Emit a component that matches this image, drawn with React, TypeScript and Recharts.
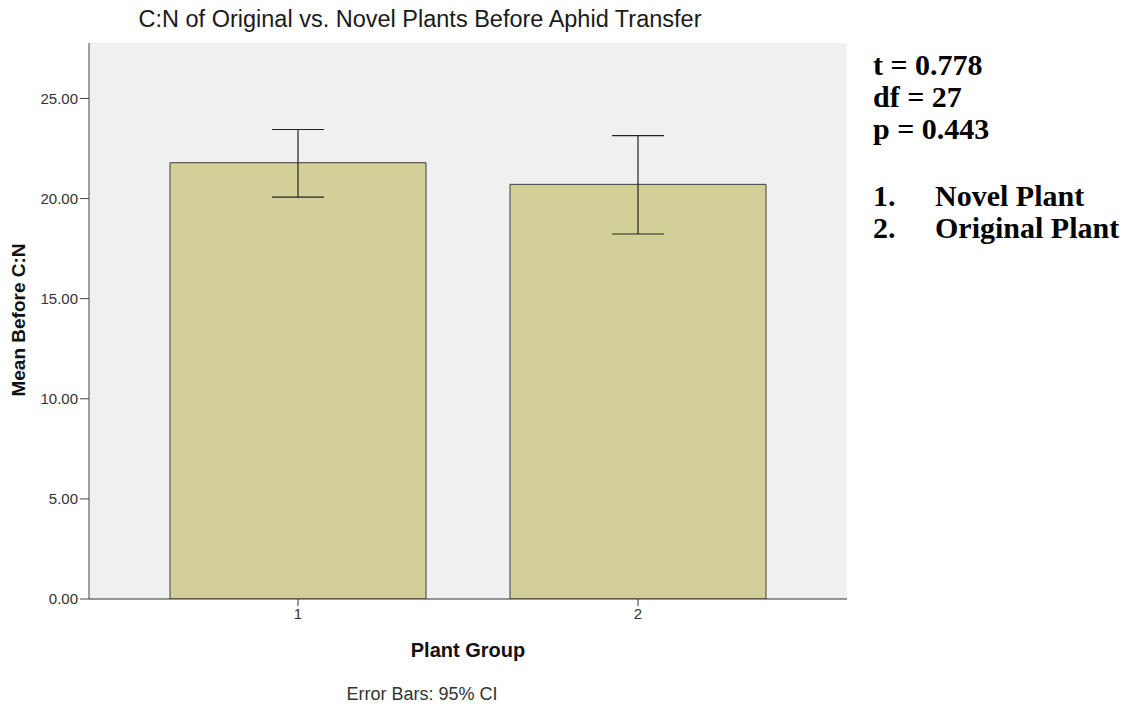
import { Bar, BarChart, CartesianGrid, ErrorBar, XAxis, YAxis } from 'recharts'

const groups = ['1', '2']
const means = [21.79, 20.71]
const ciLow = [20.07, 18.23]
const ciHigh = [23.45, 23.14]
const yTicks = [0, 5, 10, 15, 20, 25]
const stats = ['t = 0.778', 'df = 27', 'p = 0.443']
const legend = ['Novel Plant', 'Original Plant']

const data = groups.map((g, i) => ({
  group: g,
  mean: means[i],
  ci: [means[i] - ciLow[i], ciHigh[i] - means[i]],
}))

const sans = '"Liberation Sans", Arial, sans-serif'
const serif = '"Liberation Serif", "Times New Roman", serif'

export default function App() {
  return (
    <div style={{ position: 'absolute', left: 0, top: 0, width: 1131, height: 708, background: '#fff' }}>
      <BarChart
        width={1131}
        height={708}
        data={data}
        margin={{ top: 43, right: 284, bottom: 69, left: 0 }}
      >
        <CartesianGrid fill="#F0F0F0" horizontal={false} vertical={false} />
        <XAxis
          dataKey="group"
          padding={{ left: 39, right: 39 }}
          height={40}
          tickSize={7}
          tickMargin={2}
          axisLine={{ stroke: '#333' }}
          tickLine={{ stroke: '#333' }}
          tick={{ fill: '#333', fontSize: 15, fontFamily: sans }}
        />
        <XAxis
          xAxisId="top"
          dataKey="group"
          orientation="top"
          height={0}
          tick={false}
          tickLine={false}
          axisLine={{ stroke: '#777' }}
        />
        <YAxis
          width={89}
          domain={[0, 27.77]}
          ticks={yTicks}
          tickFormatter={(v) => Number(v).toFixed(2)}
          tickSize={9}
          tickMargin={2}
          axisLine={{ stroke: '#444' }}
          tickLine={{ stroke: '#444' }}
          tick={{ fill: '#333', fontSize: 15, fontFamily: sans }}
          allowDataOverflow
        />
        <YAxis
          yAxisId="right"
          orientation="right"
          width={0}
          tick={false}
          tickLine={false}
          axisLine={{ stroke: '#777' }}
        />
        <Bar
          dataKey="mean"
          fill="#D3CF98"
          stroke="#3a3a3a"
          strokeWidth={1}
          barSize={256}
          isAnimationActive={false}
        >
          <ErrorBar dataKey="ci" width={26} stroke="#222" strokeWidth={1.2} direction="y" />
        </Bar>
      </BarChart>
      <svg
        width={1131}
        height={708}
        style={{ position: 'absolute', left: 0, top: 0, pointerEvents: 'none' }}
      >
        <text x={420} y={27} textAnchor="middle" fontFamily={sans} fontSize={23.5} fill="#1a1a1a">
          C:N of Original vs. Novel Plants Before Aphid Transfer
        </text>
        <text
          x={25}
          y={320}
          transform="rotate(-90, 25, 320)"
          textAnchor="middle"
          fontFamily={sans}
          fontSize={19}
          fontWeight="bold"
          fill="#111"
        >
          Mean Before C:N
        </text>
        <text x={468} y={657} textAnchor="middle" fontFamily={sans} fontSize={20} fontWeight="bold" fill="#111">
          Plant Group
        </text>
        <text x={422} y={700} textAnchor="middle" fontFamily={sans} fontSize={18} fill="#333">
          Error Bars: 95% CI
        </text>
        {stats.map((s, i) => (
          <text key={s} x={873} y={75 + i * 32} fontFamily={serif} fontSize={30} fontWeight="bold" fill="#000">
            {s}
          </text>
        ))}
        {legend.map((s, i) => (
          <g key={s}>
            <text x={873} y={206 + i * 32} fontFamily={serif} fontSize={30} fontWeight="bold" fill="#000">
              {i + 1}.
            </text>
            <text x={935} y={206 + i * 32} fontFamily={serif} fontSize={30} fontWeight="bold" fill="#000">
              {s}
            </text>
          </g>
        ))}
      </svg>
    </div>
  )
}
